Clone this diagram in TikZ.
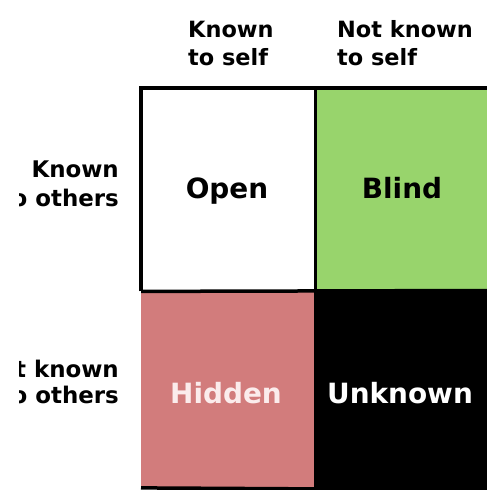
\documentclass[tikz,border=0pt]{standalone}
\usepackage{fontspec}
\setmainfont{DejaVu Sans}
\definecolor{blindgreen}{HTML}{98D46C}
\definecolor{hiddenpink}{HTML}{D27C7C}
\definecolor{hiddentext}{HTML}{FBECEC}
\begin{document}
\begin{tikzpicture}[x=1bp,y=-1bp,
  hdr/.style={inner sep=0pt,font=\bfseries\fontsize{22.5}{26}\selectfont,text=black},
  rowhdr/.style={inner sep=0pt,font=\bfseries\fontsize{23}{27}\selectfont,text=black,anchor=base east},
  lbl/.style={inner sep=0pt,font=\bfseries\fontsize{28}{33}\selectfont},
  cell/.style={draw=none,inner sep=0pt,minimum width=174bp,anchor=north west}]
\clip (0,0) rectangle (487,490);
\fill[white] (0,0) rectangle (487,490);
% cells
\node[cell,fill=white,minimum height=203bp] (open) at (141,88) {};
\node[cell,fill=blindgreen,minimum width=176bp,minimum height=203bp] (blind) at (314.5,88) {};
\node[cell,fill=hiddenpink,minimum height=197bp] (hidden) at (141,290.5) {};
\node[cell,fill=black,minimum width=176bp,minimum height=199bp] (unknown) at (314.5,290.5) {};
% grid lines
\draw[line width=4bp] (open.south west) -- (open.north west) -- (blind.north east);
\draw[line width=3.5bp] (open.north east) -- (hidden.south east);
\draw[line width=3.5bp] (open.south west) -- (unknown.north east);
\draw[line width=3.5bp] (hidden.south west) -- (unknown.south east);
% cell labels
\node[lbl,anchor=base] (topen) at (227,198) {Open};
\node[lbl,anchor=base] (tblind) at (402,198) {Blind};
\node[lbl,anchor=base,text=hiddentext] (thidden) at (226,403) {Hidden};
\node[lbl,anchor=base,text=white] (tunknown) at (400,403) {Unknown};
% column headers
\node[hdr,anchor=base west] (h1a) at (188,38) {Known};
\node[hdr,anchor=base west] (h1b) at (188,66) {to self};
\node[hdr,anchor=base west] (h2a) at (337,38) {Not known};
\node[hdr,anchor=base west] (h2b) at (337,66) {to self};
% row headers (cut off at the left, as in the picture)
\begin{scope}
\clip (19,0) rectangle (138,490);
\node[rowhdr] (r1a) at (119,178) {Known};
\node[rowhdr] (r1b) at (119,206) {to others};
\node[rowhdr] (r2a) at (119,377) {Not known};
\node[rowhdr] (r2b) at (119,403) {to others};
\end{scope}
\end{tikzpicture}
\end{document}
